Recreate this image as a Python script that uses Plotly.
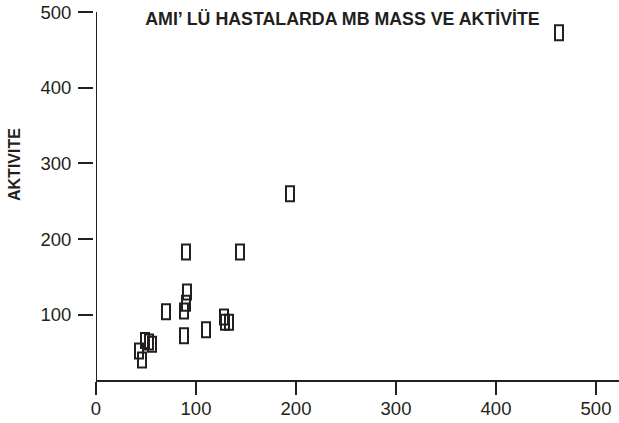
import plotly.graph_objects as go

# Data (MB MASS vs AKTIVITE)
mb_mass = [463, 194, 90, 144, 91, 90, 88, 70, 88, 110, 128, 129, 133, 49, 53, 56, 43, 46]
aktivite = [473, 260, 183, 183, 130, 115, 105, 104, 72, 80, 97, 90, 90, 66, 64, 61, 52, 40]

x_ticks = [0, 100, 200, 300, 400, 500]
y_ticks = [100, 200, 300, 400, 500]

title_text = "AMI’ LÜ HASTALARDA MB MASS VE AKTİVİTE"
y_title = "AKTIVITE"

ink = "#231f20"
W, H = 619, 423
ML, MR, MT, MB = 93, 0, 12, 43
plot_w = W - ML - MR
plot_h = H - MT - MB
gap = 3

fig = go.Figure()
fig.add_trace(go.Scatter(
    x=mb_mass, y=aktivite, mode="markers",
    marker=dict(size=12, opacity=0),
    hovertemplate="MB MASS: %{x}<br>AKTIVITE: %{y}<extra></extra>",
    showlegend=False,
))

shapes = []
for xv, yv in zip(mb_mass, aktivite):
    shapes.append(dict(
        type="rect", xref="x", yref="y",
        xsizemode="pixel", ysizemode="pixel",
        xanchor=xv, yanchor=yv,
        x0=-4, x1=4, y0=-7.5, y1=7.5,
        line=dict(color=ink, width=2), fillcolor="rgba(0,0,0,0)",
        layer="above",
    ))
# y axis line (detached ticks sit left of it)
shapes.append(dict(type="line", xref="x", yref="paper", x0=0, x1=0, y0=0, y1=1,
                   line=dict(color=ink, width=2), layer="above"))

fig.update_layout(
    width=W, height=H,
    margin=dict(l=ML, r=MR, t=MT, b=MB, autoexpand=False),
    paper_bgcolor="white", plot_bgcolor="white",
    font=dict(family="Liberation Sans, Arial, sans-serif", color=ink, size=18.5),
    title=dict(text="<b>" + title_text + "</b>", x=342.5 / W, xanchor="center",
               y=1 - 19 / H, yanchor="middle", font=dict(size=17.8, color=ink)),
    shapes=shapes,
    xaxis=dict(range=[0, 523], domain=[gap / plot_w, 1], tickvals=x_ticks,
               showline=True, linecolor=ink, linewidth=2, ticks="outside",
               ticklen=13, tickwidth=2, tickcolor=ink, showgrid=False, zeroline=False,
               automargin=False, ticklabeloverflow="allow", ticklabelstandoff=-2,
               tickfont=dict(size=18.5, color=ink)),
    yaxis=dict(range=[13.6, 500.3], tickvals=y_ticks, anchor="free", position=0,
               showline=False, ticks="outside", ticklen=15, tickwidth=2, tickcolor=ink,
               showgrid=False, zeroline=False, automargin=False, ticklabelstandoff=3,
               ticklabeloverflow="allow", tickfont=dict(size=18.5, color=ink)),
    annotations=[dict(text="<b>" + y_title + "</b>", xref="paper", yref="paper",
                      x=(14 - ML) / plot_w, y=(380 - 165) / plot_h,
                      xanchor="center", yanchor="middle", textangle=-90,
                      showarrow=False, font=dict(size=16, color=ink))],
)

fig.write_html("out.html", config={"displayModeBar": False},
               post_script="document.body.style.margin='0px';")
